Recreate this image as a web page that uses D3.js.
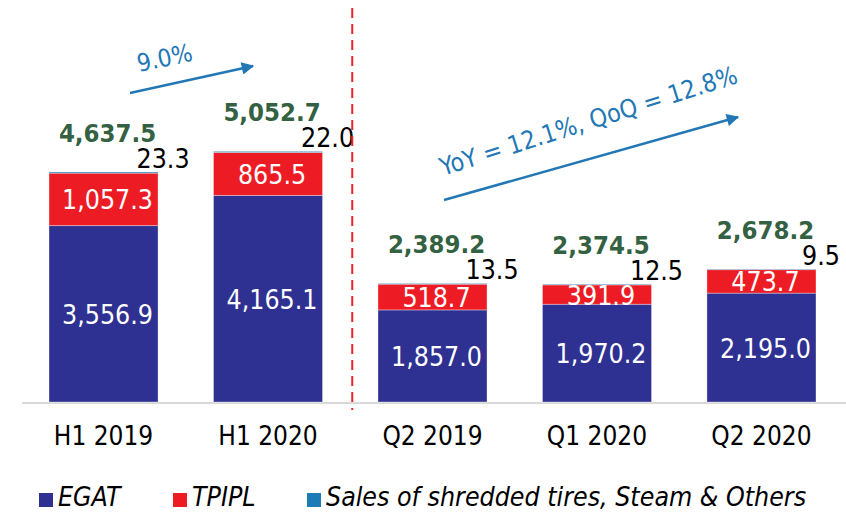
<!DOCTYPE html>
<html>
<head>
<meta charset="utf-8">
<script src="https://cdn.jsdelivr.net/npm/d3@7"></script>
<style>
  body { margin: 0; background: #fff; }
  text { font-family: "DejaVu Sans Condensed", "DejaVu Sans", sans-serif; font-stretch: condensed; }
</style>
</head>
<body>
<div id="chart"></div>
<script>
// data
const categories = ["H1 2019", "H1 2020", "Q2 2019", "Q1 2020", "Q2 2020"];
const egat = [3556.9, 4165.1, 1857.0, 1970.2, 2195.0];
const tpipl = [1057.3, 865.5, 518.7, 391.9, 473.7];
const others = [23.3, 22.0, 13.5, 12.5, 9.5];
const totals = [4637.5, 5052.7, 2389.2, 2374.5, 2678.2];
const seriesNames = ["EGAT", "TPIPL", "Sales of shredded tires, Steam & Others"];
const seriesColors = ["#2e3192", "#ed1c24", "#1f7bb6"];

const width = 846, height = 515;
const baseline = 402;

const svg = d3.select("#chart").append("svg")
    .attr("width", width)
    .attr("height", height);

const defs = svg.append("defs");
defs.append("marker")
    .attr("id", "arrow")
    .attr("viewBox", "0 0 10 10")
    .attr("refX", 9).attr("refY", 5)
    .attr("markerWidth", 6).attr("markerHeight", 5)
    .attr("markerUnits", "strokeWidth")
    .attr("orient", "auto")
    .append("path")
    .attr("d", "M0,0 L10,5 L0,10 z")
    .attr("fill", "#2277b4");

const x = d3.scaleBand()
    .domain(categories)
    .range([49, 816])
    .paddingInner(0.337)
    .paddingOuter(0);

const y = d3.scaleLinear()
    .domain([0, 5000])
    .range([baseline, 154]);

// stack the three series
const rows = categories.map((c, i) => ({cat: c, EGAT: egat[i], TPIPL: tpipl[i], Others: others[i]}));
const stack = d3.stack().keys(["EGAT", "TPIPL", "Others"]);
const layers = stack(rows);

// axis line
svg.append("line")
    .attr("x1", 22).attr("x2", width)
    .attr("y1", baseline + 1).attr("y2", baseline + 1)
    .attr("stroke", "#d9d9d9")
    .attr("stroke-width", 2);

// bars
svg.append("g")
    .selectAll("g")
    .data(layers)
    .join("g")
    .attr("fill", (d, i) => seriesColors[i])
    .selectAll("rect")
    .data(d => d)
    .join("rect")
    .attr("x", d => x(d.data.cat))
    .attr("y", d => y(d[1]))
    .attr("width", x.bandwidth())
    .attr("height", d => y(d[0]) - y(d[1]))
    .attr("stroke", "rgba(255,255,255,0.35)")
    .attr("stroke-width", 1);

// white labels inside segments
const inner = svg.append("g")
    .attr("fill", "#fff")
    .attr("font-size", 26.5)
    .attr("text-anchor", "middle");

[0, 1].forEach(k => {
    inner.selectAll(null)
        .data(layers[k])
        .join("text")
        .attr("x", d => x(d.data.cat) + x.bandwidth() / 2 + 4)
        .attr("y", d => (y(d[0]) + y(d[1])) / 2 + 10)
        .text(d => d3.format(",.1f")(d[1] - d[0]));
});

// others labels
svg.append("g")
    .selectAll("text")
    .data(categories)
    .join("text")
    .attr("x", d => x(d) + x.bandwidth() + 5)
    .attr("y", (d, i) => y(totals[i]) - 4)
    .attr("text-anchor", "middle")
    .attr("font-size", 26.5)
    .attr("fill", "#000")
    .text((d, i) => d3.format(",.1f")(others[i]));

// totals
svg.append("g")
    .selectAll("text")
    .data(categories)
    .join("text")
    .attr("x", d => x(d) + x.bandwidth() / 2 + 4)
    .attr("y", (d, i) => y(totals[i]) - 30)
    .attr("text-anchor", "middle")
    .attr("font-size", 25.5)
    .attr("font-weight", "bold")
    .attr("fill", "#336142")
    .text((d, i) => d3.format(",.1f")(totals[i]));

// category labels
svg.append("g")
    .selectAll("text")
    .data(categories)
    .join("text")
    .attr("x", d => x(d) + x.bandwidth() / 2)
    .attr("y", 445)
    .attr("text-anchor", "middle")
    .attr("font-size", 26)
    .attr("fill", "#000")
    .text(d => d);

// divider between half-year and quarterly groups
const divX = (x("H1 2020") + x.bandwidth() + x("Q2 2019")) / 2 + 2;
svg.append("line")
    .attr("x1", divX).attr("x2", divX)
    .attr("y1", 8).attr("y2", 410)
    .attr("stroke", "#e8242a")
    .attr("stroke-width", 2)
    .attr("stroke-dasharray", "10,6");

// growth arrows
svg.append("line")
    .attr("x1", 130).attr("y1", 93)
    .attr("x2", 253).attr("y2", 66)
    .attr("stroke", "#2277b4")
    .attr("stroke-width", 2.5)
    .attr("marker-end", "url(#arrow)");
svg.append("text")
    .attr("transform", "translate(139,72) rotate(-12)")
    .attr("font-size", 24.5)
    .attr("fill", "#2277b4")
    .text("9.0%");

svg.append("line")
    .attr("x1", 444).attr("y1", 200)
    .attr("x2", 738).attr("y2", 117)
    .attr("stroke", "#2277b4")
    .attr("stroke-width", 2.5)
    .attr("marker-end", "url(#arrow)");
svg.append("text")
    .attr("transform", "translate(443,176) rotate(-17.5)")
    .attr("font-size", 25)
    .attr("fill", "#2277b4")
    .text("YoY = 12.1%, QoQ = 12.8%");

// legend
const legendX = [39, 173, 307];
const legend = svg.append("g")
    .selectAll("g")
    .data(seriesNames)
    .join("g")
    .attr("transform", (d, i) => "translate(" + legendX[i] + ",493)");
legend.append("rect")
    .attr("width", 14).attr("height", 14)
    .attr("fill", (d, i) => seriesColors[i]);
legend.append("text")
    .attr("x", 19)
    .attr("y", 13)
    .attr("font-size", 26.5)
    .attr("font-style", "italic")
    .attr("fill", "#000")
    .text(d => d);
</script>
</body>
</html>
